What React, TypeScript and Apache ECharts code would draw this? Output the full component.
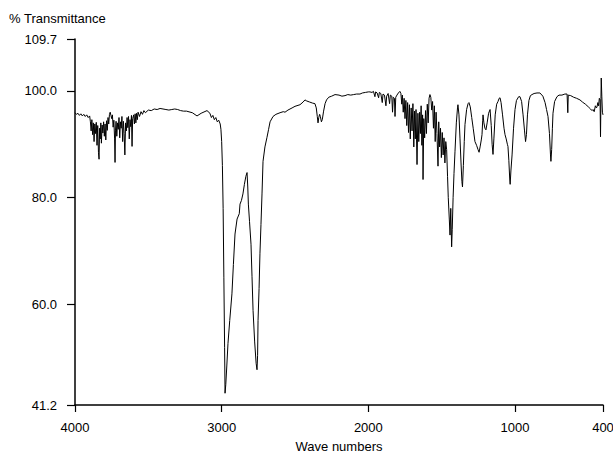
import React, { useEffect, useRef } from "react";
import * as echarts from "echarts";

const wavenumbers: number[] = [
  4000, 3990, 3980, 3970, 3960, 3950, 3940, 3930, 3920, 3910, 3900,
  3895, 3890, 3885, 3880, 3875, 3870, 3865, 3860, 3855, 3850, 3845, 3840, 3836, 3832, 3828, 3824, 3820, 3815, 3810, 3805, 3800, 3795, 3790, 3785, 3780, 3775, 3770, 3765, 3760, 3755, 3750, 3745, 3740, 3735, 3730, 3727, 3724, 3720, 3715, 3710, 3705, 3700, 3695, 3690, 3685, 3680, 3675, 3670, 3665, 3660, 3655, 3650, 3645, 3640, 3635, 3630, 3625, 3620, 3615, 3611, 3607, 3600, 3595, 3590, 3585, 3580, 3575, 3570, 3560, 3550, 3540, 3530, 3520, 3500,
  3480, 3460, 3440, 3420, 3400, 3380, 3360, 3340, 3320, 3300, 3280, 3260, 3240, 3200, 3168, 3140, 3100, 3080, 3070, 3060, 3050, 3040, 3030, 3020, 3010, 3005,
  3000, 2995, 2990, 2985, 2980, 2977, 2972, 2965, 2957, 2945, 2930, 2920, 2909, 2895, 2880, 2875, 2865, 2855, 2845, 2835, 2827, 2822, 2818, 2810, 2800, 2793, 2786, 2775, 2765, 2759, 2755, 2752, 2745, 2739, 2732, 2725, 2718, 2705, 2691, 2680, 2670, 2650, 2630, 2602,
  2580, 2568, 2548, 2520, 2500, 2466, 2445, 2432, 2420, 2400, 2380, 2364, 2355, 2348, 2343, 2338, 2332, 2327, 2320, 2314, 2305, 2295, 2285, 2270, 2250, 2227, 2200, 2180, 2159, 2140, 2120, 2100, 2080, 2057, 2040, 2020, 2000,
  1989, 1975, 1965, 1955, 1950, 1940, 1930, 1925, 1915, 1905, 1900, 1890, 1880, 1875, 1865, 1855, 1850, 1840, 1835, 1830, 1822, 1818, 1813, 1805, 1795, 1785, 1778, 1772, 1768, 1762, 1756, 1750, 1744, 1738, 1732, 1726, 1720, 1714, 1708, 1702, 1696, 1690, 1685, 1680, 1675, 1668, 1662, 1656, 1650, 1645, 1640, 1635, 1630, 1627, 1622, 1616, 1610, 1604, 1598, 1592, 1586, 1580, 1574, 1568, 1562, 1556, 1550, 1544, 1538, 1532, 1525, 1520, 1514, 1508, 1502, 1496, 1490, 1484, 1478, 1472, 1466, 1460,
  1455, 1448, 1443, 1438, 1432, 1428, 1422, 1416, 1409, 1400, 1392, 1389, 1382, 1375, 1368, 1362, 1358, 1352, 1346, 1341, 1330, 1320, 1314, 1305, 1295, 1285, 1273, 1262, 1252, 1245, 1238, 1230, 1225, 1220, 1218, 1212, 1205, 1198, 1190, 1180, 1170, 1162, 1156, 1150, 1144, 1135, 1125, 1116, 1108, 1102, 1095, 1085, 1075, 1068, 1060, 1052, 1048, 1042, 1036, 1033, 1028, 1020, 1010, 1000,
  990, 975, 966, 955, 945, 935, 928, 922, 915, 905, 895, 884, 870, 850, 830, 810, 795, 785, 775, 765, 758, 755, 750, 745, 741, 730, 714, 700, 680, 660, 645, 640, 637, 620, 600, 580, 557, 540, 520, 500, 485, 475, 468, 460, 452, 445, 441, 435, 430, 425, 420, 417, 414, 412, 408, 404, 400,
];

const transmittance: number[] = [
  95.9, 95.6, 95.8, 95.4, 95.7, 95.3, 95.6, 95.2, 95.5, 95.0, 95.3,
  94.2, 92.5, 94.6, 91.8, 94.0, 90.5, 93.8, 92.0, 94.1, 89.8, 93.5, 88.5, 87.2, 93.0, 91.0, 94.0, 90.2, 93.6, 92.1, 94.2, 91.5, 93.8, 90.8, 94.4, 92.6, 95.0, 93.8, 95.6, 96.0, 95.4, 94.8, 95.5, 93.2, 94.5, 91.0, 86.6, 92.5, 94.3, 91.5, 94.0, 92.8, 95.0, 91.2, 94.2, 93.0, 95.2, 90.5, 94.3, 92.0, 88.0, 94.0, 92.5, 95.0, 93.1, 95.2, 91.0, 94.6, 93.3, 95.4, 89.6, 94.8, 95.5, 93.8, 95.7, 94.0, 95.8, 94.6, 96.0, 95.2, 96.1, 95.6, 96.3, 95.9, 96.4,
  96.3, 96.6, 96.5, 96.7, 96.6, 96.5, 96.4, 96.5, 96.6, 96.5, 96.3, 96.2, 96.2, 95.9, 95.3, 95.8, 96.3, 95.8, 95.0, 95.4, 94.6, 95.0, 94.2, 94.5, 93.8, 92.8,
  90.5, 86.0, 78.0, 65.0, 52.0, 43.4, 45.0, 48.5, 52.7, 57.0, 62.0, 67.5, 73.2, 76.0, 77.0, 78.8, 79.5, 80.7, 82.5, 84.0, 84.7, 82.0, 78.8, 75.5, 71.3, 65.2, 58.9, 53.0, 49.0, 47.8, 50.5, 57.0, 63.0, 69.5, 75.0, 80.7, 86.8, 89.5, 91.3, 92.8, 94.2, 95.2, 95.6, 95.9,
  96.1, 96.0, 96.4, 96.8, 97.1, 97.4, 97.9, 98.3, 98.1, 97.9, 97.7, 97.6, 96.8, 95.2, 94.0, 95.0, 95.6, 95.2, 94.2, 94.6, 96.2, 97.6, 98.3, 98.8, 99.0, 99.3, 99.2, 99.0, 99.1, 99.3, 99.2, 99.3, 99.4, 99.4, 99.6, 99.7, 99.8,
  99.8, 99.7, 99.9, 98.9, 99.8, 99.6, 98.7, 99.7, 99.5, 97.8, 99.4, 99.2, 97.2, 99.0, 99.5, 97.6, 99.2, 99.0, 96.0, 98.8, 98.6, 95.2, 98.8, 99.2, 99.6, 99.9, 99.5, 97.5, 99.2, 96.0, 98.6, 94.8, 98.2, 93.5, 97.8, 92.2, 97.4, 91.0, 96.8, 92.5, 97.6, 89.5, 96.2, 91.0, 96.5, 86.2, 95.8, 90.5, 96.0, 92.0, 97.2, 89.8, 95.5, 83.4, 94.8, 91.2, 96.3, 92.0, 97.5, 94.0, 98.6, 99.3, 98.8, 96.4, 98.0, 93.0, 97.2, 90.5, 96.0, 92.0, 85.9, 94.2, 89.5, 93.0, 87.5, 92.2, 88.0, 91.2, 86.5, 90.5, 89.0, 84.0,
  80.0, 76.0, 73.0, 78.0, 70.8, 74.0, 80.0, 84.5, 88.7, 94.0, 96.8, 97.4, 95.5, 91.0, 86.5, 83.0, 82.0, 86.0, 90.5, 93.7, 96.5, 97.6, 97.8, 97.0, 95.0, 93.0, 90.5, 89.8, 89.0, 88.5, 89.5, 90.8, 91.8, 94.5, 95.5, 94.0, 93.0, 92.7, 94.0, 95.8, 96.5, 93.5, 90.0, 88.1, 91.0, 95.5, 97.5, 98.0, 98.6, 98.7, 97.8, 95.5, 93.0, 91.8, 91.0, 90.0, 89.6, 87.0, 83.5, 82.5, 85.0, 88.0, 93.0, 96.5,
  98.2, 98.9, 98.9, 98.0, 95.5, 92.5, 90.5, 91.8, 95.5, 98.2, 99.1, 99.3, 99.5, 99.6, 99.6, 99.0, 97.8, 96.5, 95.2, 92.0, 88.0, 86.8, 89.0, 93.0, 95.8, 98.0, 98.9, 99.2, 99.2, 99.4, 99.4, 95.9, 99.2, 99.1, 98.8, 98.6, 98.3, 97.9, 97.5, 97.0, 96.6, 96.3, 96.5, 96.1, 97.2, 96.8, 97.0, 97.8, 97.2, 98.6, 98.3, 91.4, 98.5, 102.4, 99.0, 96.0, 95.5,
];

const xTickValues: number[] = [4000, 3000, 2000, 1000, 400];
const yTickValues: number[] = [41.2, 60, 80, 100, 109.7];

const FONT = "Liberation Sans, Arial, Helvetica, sans-serif";

export default function App() {
  const ref = useRef<HTMLDivElement>(null);

  useEffect(() => {
    if (!ref.current) return;
    const chart = echarts.init(ref.current, undefined, { renderer: "svg" });
    const data = wavenumbers.map((w, i) => [w, transmittance[i]]);
    chart.setOption({
      animation: false,
      backgroundColor: "#ffffff",
      textStyle: { fontFamily: FONT },
      grid: { left: 75, right: 10, top: 39, bottom: 50, containLabel: false, outerBoundsMode: "none" },
      graphic: [
        {
          type: "text",
          left: 9,
          top: 12,
          style: { text: "% Transmittance", fontSize: 13, fontFamily: FONT, fill: "#000" },
        },
      ],
      xAxis: {
        type: "value",
        min: 400,
        max: 4000,
        inverse: true,
        name: "Wave numbers",
        nameLocation: "middle",
        nameGap: 35,
        nameTextStyle: { fontSize: 13, color: "#000", fontFamily: FONT },
        axisLine: { show: true, lineStyle: { color: "#000", width: 1.5 } },
        axisTick: { show: true, length: 7, customValues: xTickValues, lineStyle: { color: "#000", width: 1.2 } },
        axisLabel: {
          show: true,
          customValues: xTickValues,
          margin: 16,
          fontSize: 13,
          color: "#000",
          fontFamily: FONT,
          formatter: (v: number) => String(v),
        },
        splitLine: { show: false },
      },
      yAxis: {
        type: "value",
        min: 41.2,
        max: 109.7,
        axisLine: { show: true, lineStyle: { color: "#000", width: 1.5 } },
        axisTick: { show: true, length: 8, customValues: yTickValues, lineStyle: { color: "#000", width: 1.2 } },
        axisLabel: {
          show: true,
          customValues: yTickValues,
          margin: 18,
          fontSize: 13,
          color: "#000",
          fontFamily: FONT,
          formatter: (v: number) => v.toFixed(1),
        },
        splitLine: { show: false },
      },
      series: [
        {
          type: "line",
          data,
          showSymbol: false,
          symbol: "none",
          silent: true,
          lineStyle: { color: "#000", width: 1 },
        },
      ],
    });
    return () => chart.dispose();
  }, []);

  return (
    <div
      ref={ref}
      style={{ position: "fixed", left: 0, top: 0, width: 613, height: 455, background: "#fff" }}
    />
  );
}
